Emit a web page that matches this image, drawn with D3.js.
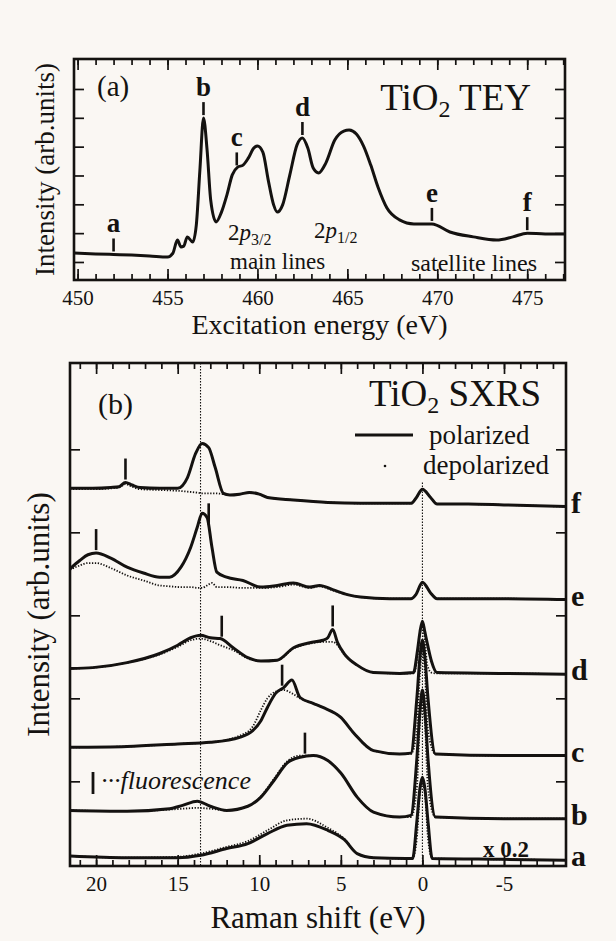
<!DOCTYPE html>
<html>
<head>
<meta charset="utf-8">
<script src="https://cdn.jsdelivr.net/npm/d3@7"></script>
<style>
  body { margin: 0; background: #faf7f3; }
  svg { display: block; font-family: "Liberation Serif", "Times New Roman", serif; }
</style>
</head>
<body>
<svg id="fig" width="616" height="941"></svg>
<script>
// ---- panel (a): TiO2 TEY absorption ----
const teyEnergy = [449.8, 451, 452, 453, 454, 455, 455.3, 455.55, 455.75, 455.9, 456.1, 456.4, 456.6,
  456.8, 457.0, 457.2, 457.4, 457.7, 458.0, 458.3, 458.6, 458.9, 459.2, 459.5, 459.8, 460.0, 460.3,
  460.6, 460.9, 461.1, 461.4, 461.8, 462.2, 462.5, 462.8, 463.1, 463.4, 463.8, 464.3, 464.8, 465.1,
  465.5, 465.9, 466.3, 466.7, 467.2, 467.9, 468.7, 469.7, 470.7, 472.0, 473.3, 474.2, 475.0, 476.0, 477.1];
const teyIntensity = [1.31, 1.28, 1.26, 1.24, 1.21, 1.17, 1.31, 1.76, 1.52, 1.55, 1.87, 1.69, 2.28,
  4.19, 5.99, 4.88, 3.15, 2.39, 2.73, 3.32, 4.02, 4.29, 4.36, 4.61, 4.95, 5.02, 4.81,
  3.84, 2.98, 2.73, 2.98, 4.02, 5.06, 5.30, 4.95, 4.26, 4.09, 4.43, 5.23, 5.54, 5.58,
  5.44, 5.02, 4.36, 3.60, 2.87, 2.46, 2.32, 2.32, 2.04, 1.87, 1.76, 1.87, 2.00, 1.97, 1.97];
const teyMarkNames = ["a", "b", "c", "d", "e", "f"];
const teyMarkEnergy = [452.0, 457.0, 458.85, 462.5, 469.7, 475.0];
const teyTicks = [450, 455, 460, 465, 470, 475];
const teyMinor = d3.range(450, 478, 1);
const teyYTicks = [1, 2, 3, 4, 5, 6, 7];

// ---- panel (b): TiO2 SXRS spectra (offset, arb. units) ----
const shiftF = [21.6, 20.2, 19.1, 18.6, 18.2, 17.8, 17.3, 16.1, 15.0, 14.4, 13.9, 13.5, 13.1, 12.7, 12.2, 11.8,
  11.2, 10.6, 10.0, 9.5, 7.9, 5.8, 3.8, 1.5, 0.7, 0.4, 0.0, -0.5, -0.9, -2.8, -5, -8.8];
const polF = [4.53, 4.53, 4.54, 4.55, 4.60, 4.57, 4.54, 4.53, 4.53, 4.66, 4.95, 5.07, 5.02, 4.78, 4.47, 4.45,
  4.46, 4.48, 4.46, 4.42, 4.39, 4.36, 4.35, 4.35, 4.35, 4.41, 4.52, 4.42, 4.34, 4.34, 4.33, 4.31];
const depF = [4.52, 4.52, 4.53, 4.54, 4.58, 4.55, 4.52, 4.51, 4.50, 4.49, 4.48, 4.47, 4.47, 4.47, 4.46, 4.45,
  4.46, 4.48, 4.46, 4.42, 4.39, 4.36, 4.35, 4.35, 4.35, 4.41, 4.51, 4.42, 4.34, 4.34, 4.33, 4.31];

const shiftE = [21.6, 21.0, 20.5, 20.0, 19.1, 18.1, 17.1, 16.1, 15.5, 14.8, 14.2, 13.8, 13.5, 13.2, 12.9, 12.6,
  12.0, 11.0, 9.9, 8.9, 7.9, 6.9, 6.3, 5.5, 4.6, 3.8, 2.0, 0.7, 0.4, 0.0, -0.5, -0.9, -5, -8.8];
const polE = [3.56, 3.66, 3.73, 3.75, 3.69, 3.58, 3.51, 3.46, 3.46, 3.58, 3.82, 4.06, 4.23, 4.18, 3.82, 3.52,
  3.46, 3.42, 3.34, 3.36, 3.39, 3.34, 3.36, 3.31, 3.25, 3.22, 3.20, 3.20, 3.25, 3.40, 3.27, 3.20, 3.20, 3.19];
const depE = [3.55, 3.60, 3.63, 3.63, 3.57, 3.48, 3.42, 3.36, 3.35, 3.34, 3.34, 3.33, 3.33, 3.36, 3.39, 3.34,
  3.34, 3.33, 3.33, 3.34, 3.37, 3.33, 3.35, 3.30, 3.25, 3.22, 3.20, 3.20, 3.25, 3.39, 3.27, 3.20, 3.20, 3.19];

const shiftD = [21.6, 20.2, 18.1, 16.1, 15.0, 14.2, 13.6, 13.0, 12.4, 11.6, 10.7, 9.9, 8.9, 7.9, 6.9, 6.1,
  5.8, 5.5, 5.2, 4.8, 4.0, 3.0, 1.4, 0.55, 0.3, 0.15, 0.0, -0.15, -0.3, -0.55, -0.9, -5, -8.8];
const polD = [2.36, 2.37, 2.43, 2.54, 2.64, 2.73, 2.76, 2.73, 2.72, 2.61, 2.49, 2.45, 2.46, 2.61, 2.67, 2.70,
  2.73, 2.83, 2.67, 2.54, 2.40, 2.31, 2.30, 2.31, 2.58, 2.80, 2.93, 2.80, 2.66, 2.45, 2.31, 2.30, 2.29];
const depD = [2.36, 2.37, 2.43, 2.53, 2.62, 2.70, 2.72, 2.69, 2.64, 2.58, 2.48, 2.45, 2.46, 2.60, 2.66, 2.68,
  2.68, 2.68, 2.64, 2.53, 2.40, 2.31, 2.30, 2.30, 2.50, 2.78, 2.88, 2.70, 2.40, 2.31, 2.30, 2.30, 2.29];

const shiftC = [21.6, 18.1, 15.0, 13.0, 11.2, 10.4, 9.9, 9.5, 9.0, 8.5, 8.0, 7.5, 6.7, 6.1, 5.0, 4.2,
  3.0, 1.4, 0.7, 0.35, 0.15, 0.0, -0.15, -0.35, -0.8, -5, -8.8];
const polC = [1.41, 1.42, 1.45, 1.47, 1.53, 1.61, 1.73, 1.89, 2.06, 2.13, 2.22, 2.01, 1.94, 1.89, 1.77, 1.58,
  1.37, 1.33, 1.34, 1.98, 2.50, 2.70, 2.50, 1.98, 1.33, 1.31, 1.31];
const depC = [1.41, 1.42, 1.45, 1.47, 1.55, 1.66, 1.86, 2.00, 2.08, 2.10, 2.06, 2.00, 1.94, 1.89, 1.77, 1.58,
  1.37, 1.33, 1.33, 1.60, 2.30, 2.60, 2.30, 1.60, 1.33, 1.31, 1.31];

const shiftB = [21.6, 18.1, 15.5, 14.7, 13.8, 13.0, 12.0, 10.7, 9.9, 9.1, 8.3, 7.5, 6.7, 5.8, 5.0, 4.0,
  3.0, 1.4, 0.7, 0.35, 0.15, 0.0, -0.15, -0.35, -0.8, -5, -8.8];
const polB = [0.65, 0.64, 0.67, 0.71, 0.76, 0.70, 0.65, 0.70, 0.81, 1.01, 1.22, 1.29, 1.31, 1.25, 1.10, 0.81,
  0.63, 0.57, 0.59, 1.25, 1.85, 2.10, 1.85, 1.25, 0.57, 0.55, 0.55];
const depB = [0.65, 0.64, 0.66, 0.67, 0.68, 0.67, 0.65, 0.70, 0.82, 1.03, 1.24, 1.31, 1.31, 1.25, 1.10, 0.81,
  0.63, 0.57, 0.57, 0.90, 1.70, 1.95, 1.70, 0.90, 0.57, 0.55, 0.55];

const shiftA = [21.6, 18.1, 15.0, 13.6, 12.0, 10.7, 9.5, 8.3, 7.1, 5.8, 4.8, 4.0, 3.0, 1.0, 0.6, 0.35,
  0.15, 0.0, -0.15, -0.35, -0.6, -5, -8.8];
const polA = [0.10, 0.08, 0.08, 0.11, 0.19, 0.25, 0.37, 0.47, 0.49, 0.41, 0.30, 0.13, 0.08, 0.07, 0.07, 0.50,
  0.92, 1.05, 0.92, 0.50, 0.07, 0.06, 0.05];
const depA = [0.10, 0.08, 0.09, 0.13, 0.21, 0.28, 0.41, 0.53, 0.55, 0.44, 0.31, 0.13, 0.08, 0.07, 0.07, 0.30,
  0.85, 0.98, 0.85, 0.30, 0.07, 0.06, 0.05];

const sxrsNames = ["f", "e", "d", "c", "b", "a"];
const sxrsShift = [shiftF, shiftE, shiftD, shiftC, shiftB, shiftA];
const sxrsPol = [polF, polE, polD, polC, polB, polA];
const sxrsDep = [depF, depE, depD, depC, depB, depA];

// fluorescence markers: which spectrum, at what shift
const fluoSpectrum = ["f", "e", "e", "d", "d", "c", "b"];
const fluoShift = [18.2, 20.0, 13.1, 12.3, 5.5, 8.6, 7.2];
const guideShift = [13.6, 0];
const ramanTicks = [20, 15, 10, 5, 0, -5];
const ramanMinor = d3.range(-8, 22, 1);
const sxrsYTicks = [1, 2, 3, 4, 5];

const ink = "#141210";
const svg = d3.select("#fig");

function styleAxis(g, size) {
  g.select(".domain").remove();
  g.attr("font-family", null).attr("font-size", size);
  g.selectAll("line").attr("stroke", ink).attr("stroke-width", 1.7);
  g.selectAll("text").attr("fill", ink);
}

function drawFrame(x, y, xTicks, xMinor, yTicks) {
  const [x0, x1] = x.range(), [y0, y1] = y.range();
  const g = svg.append("g");
  g.append("g").attr("transform", `translate(0,${y0})`)
    .call(d3.axisBottom(x).tickValues(xMinor).tickSize(-6).tickFormat(""))
    .call(styleAxis, 21);
  g.append("g").attr("transform", `translate(0,${y0})`)
    .call(d3.axisBottom(x).tickValues(xTicks).tickSize(-11).tickPadding(10).tickFormat(d => String(d)))
    .call(styleAxis, 21);
  g.append("g").attr("transform", `translate(0,${y1})`)
    .call(d3.axisTop(x).tickValues(xMinor).tickSize(-6).tickFormat(""))
    .call(styleAxis, 21);
  g.append("g").attr("transform", `translate(0,${y1})`)
    .call(d3.axisTop(x).tickValues(xTicks).tickSize(-11).tickFormat(""))
    .call(styleAxis, 21);
  g.append("g").attr("transform", `translate(${x0},0)`)
    .call(d3.axisLeft(y).tickValues(yTicks).tickSize(-10).tickFormat(""))
    .call(styleAxis, 21);
  g.append("g").attr("transform", `translate(${x1},0)`)
    .call(d3.axisRight(y).tickValues(yTicks).tickSize(-10).tickFormat(""))
    .call(styleAxis, 21);
  g.append("rect")
    .attr("x", x0).attr("y", y1).attr("width", x1 - x0).attr("height", y0 - y1)
    .attr("fill", "none").attr("stroke", ink).attr("stroke-width", 2.6);
  return g;
}

// ================= panel (a) =================
const xA = d3.scaleLinear().domain([449.8, 477.1]).range([74, 565]);
const yA = d3.scaleLinear().domain([0.375, 8.04]).range([280, 59]);
drawFrame(xA, yA, teyTicks, teyMinor, teyYTicks);

const teyData = teyEnergy.map((e, i) => [e, teyIntensity[i]]);
svg.append("path")
  .datum(teyData)
  .attr("fill", "none")
  .attr("stroke", ink)
  .attr("stroke-width", 3)
  .attr("stroke-linejoin", "round")
  .attr("d", d3.line().x(d => xA(d[0])).y(d => yA(d[1])).curve(d3.curveMonotoneX));

const teyAt = d3.scaleLinear().domain(teyEnergy).range(teyIntensity);
const markA = svg.append("g");
teyMarkNames.forEach((name, i) => {
  const e = teyMarkEnergy[i], yc = yA(teyAt(e));
  markA.append("line")
    .attr("x1", xA(e)).attr("x2", xA(e))
    .attr("y1", yc - 3).attr("y2", yc - 16)
    .attr("stroke", ink).attr("stroke-width", 2.6);
  markA.append("text")
    .attr("x", xA(e)).attr("y", yc - 22)
    .attr("text-anchor", "middle")
    .attr("font-size", 27).attr("font-weight", "bold").attr("fill", ink)
    .text(name);
});

svg.append("text").attr("x", 97).attr("y", 96).attr("font-size", 29).attr("fill", ink).text("(a)");

const titleA = svg.append("text").attr("x", 531).attr("y", 110)
  .attr("text-anchor", "end").attr("font-size", 37).attr("fill", ink);
titleA.append("tspan").text("TiO");
titleA.append("tspan").attr("font-size", 24).attr("dy", 7).text("2");
titleA.append("tspan").attr("dy", -7).text(" TEY");

function orbital(x, y, sub) {
  const t = svg.append("text").attr("x", x).attr("y", y).attr("font-size", 23).attr("fill", ink);
  t.append("tspan").text("2");
  t.append("tspan").attr("font-style", "italic").text("p");
  t.append("tspan").attr("font-size", 16).attr("dy", 5).text(sub);
}
orbital(228, 240, "3/2");
orbital(314, 238, "1/2");
svg.append("text").attr("x", 230).attr("y", 269).attr("font-size", 23).attr("fill", ink).text("main lines");
svg.append("text").attr("x", 411).attr("y", 271).attr("font-size", 24).attr("fill", ink).text("satellite lines");

svg.append("text")
  .attr("x", d3.mean(xA.range())).attr("y", 334)
  .attr("text-anchor", "middle").attr("font-size", 28).attr("fill", ink)
  .text("Excitation energy (eV)");
svg.append("text")
  .attr("transform", `translate(54,${d3.mean(yA.range())}) rotate(-90)`)
  .attr("text-anchor", "middle").attr("font-size", 27).attr("fill", ink)
  .text("Intensity (arb.units)");

// ================= panel (b) =================
const xB = d3.scaleLinear().domain([21.6, -8.8]).range([70, 566]);
const yB = d3.scaleLinear().domain([-0.02, 6.04]).range([866, 363]);
drawFrame(xB, yB, ramanTicks, ramanMinor, sxrsYTicks);

// dotted guide lines at the 13.6 eV fluorescence and the elastic line
svg.append("g").selectAll("line")
  .data(guideShift)
  .join("line")
    .attr("x1", d => xB(d)).attr("x2", d => xB(d))
    .attr("y1", d => d === 0 ? yB(4.6) : yB(6.04))
    .attr("y2", yB(-0.02))
    .attr("stroke", ink).attr("stroke-width", 1.1)
    .attr("stroke-dasharray", "1.5,1.5");

const lineB = d3.line().x(d => xB(d[0])).y(d => yB(d[1])).curve(d3.curveMonotoneX);
const spectra = sxrsNames.map((name, i) => ({
  name,
  pol: sxrsShift[i].map((s, j) => [s, sxrsPol[i][j]]),
  dep: sxrsShift[i].map((s, j) => [s, sxrsDep[i][j]]),
  at: d3.scaleLinear().domain(sxrsShift[i]).range(sxrsPol[i])
}));

const gSpec = svg.append("g").attr("fill", "none").attr("stroke", ink).attr("stroke-linejoin", "round");
gSpec.selectAll("path.dep")
  .data(spectra)
  .join("path")
    .attr("class", "dep")
    .attr("stroke-width", 1.8)
    .attr("stroke-dasharray", "1.3,1.6")
    .attr("d", d => lineB(d.dep));
gSpec.selectAll("path.pol")
  .data(spectra)
  .join("path")
    .attr("class", "pol")
    .attr("stroke-width", 3)
    .attr("d", d => lineB(d.pol));

// spectrum letters on the right
svg.append("g").selectAll("text")
  .data(spectra)
  .join("text")
    .attr("x", 571)
    .attr("y", d => yB(d.pol[d.pol.length - 1][1]) + 6)
    .attr("font-size", 30).attr("font-weight", "bold").attr("fill", ink)
    .text(d => d.name);

// fluorescence markers
const specByName = new Map(spectra.map(d => [d.name, d]));
svg.append("g").selectAll("line")
  .data(fluoShift.map((s, i) => [s, specByName.get(fluoSpectrum[i])]))
  .join("line")
    .attr("x1", d => xB(d[0])).attr("x2", d => xB(d[0]))
    .attr("y1", d => yB(d[1].at(d[0])) - 3)
    .attr("y2", d => yB(d[1].at(d[0])) - 24)
    .attr("stroke", ink).attr("stroke-width", 2.6);

svg.append("text").attr("x", 98).attr("y", 414).attr("font-size", 30).attr("fill", ink).text("(b)");

const titleB = svg.append("text").attr("x", 541).attr("y", 406)
  .attr("text-anchor", "end").attr("font-size", 37).attr("fill", ink);
titleB.append("tspan").text("TiO");
titleB.append("tspan").attr("font-size", 24).attr("dy", 7).text("2");
titleB.append("tspan").attr("dy", -7).text(" SXRS");

// legend
svg.append("line").attr("x1", 355).attr("x2", 413).attr("y1", 435).attr("y2", 435)
  .attr("stroke", ink).attr("stroke-width", 2.8);
svg.append("text").attr("x", 429).attr("y", 444).attr("font-size", 27).attr("fill", ink).text("polarized");
svg.append("circle").attr("cx", 385).attr("cy", 466).attr("r", 1.3).attr("fill", ink);
svg.append("text").attr("x", 423).attr("y", 474).attr("font-size", 27).attr("fill", ink).text("depolarized");

svg.append("line").attr("x1", 93).attr("x2", 93).attr("y1", 772).attr("y2", 794)
  .attr("stroke", ink).attr("stroke-width", 2.8);
svg.append("text").attr("x", 101).attr("y", 789).attr("font-size", 26).attr("font-style", "italic")
  .attr("fill", ink).text("\u00B7\u00B7\u00B7fluorescence");

svg.append("text").attr("x", 483).attr("y", 857).attr("font-size", 23).attr("font-weight", "bold")
  .attr("fill", ink).text("x 0.2");

svg.append("text")
  .attr("x", d3.mean(xB.range())).attr("y", 928)
  .attr("text-anchor", "middle").attr("font-size", 31).attr("fill", ink)
  .text("Raman shift (eV)");
svg.append("text")
  .attr("transform", `translate(49,${d3.mean(yB.range())}) rotate(-90)`)
  .attr("text-anchor", "middle").attr("font-size", 31).attr("fill", ink)
  .text("Intensity (arb.units)");
</script>
</body>
</html>
